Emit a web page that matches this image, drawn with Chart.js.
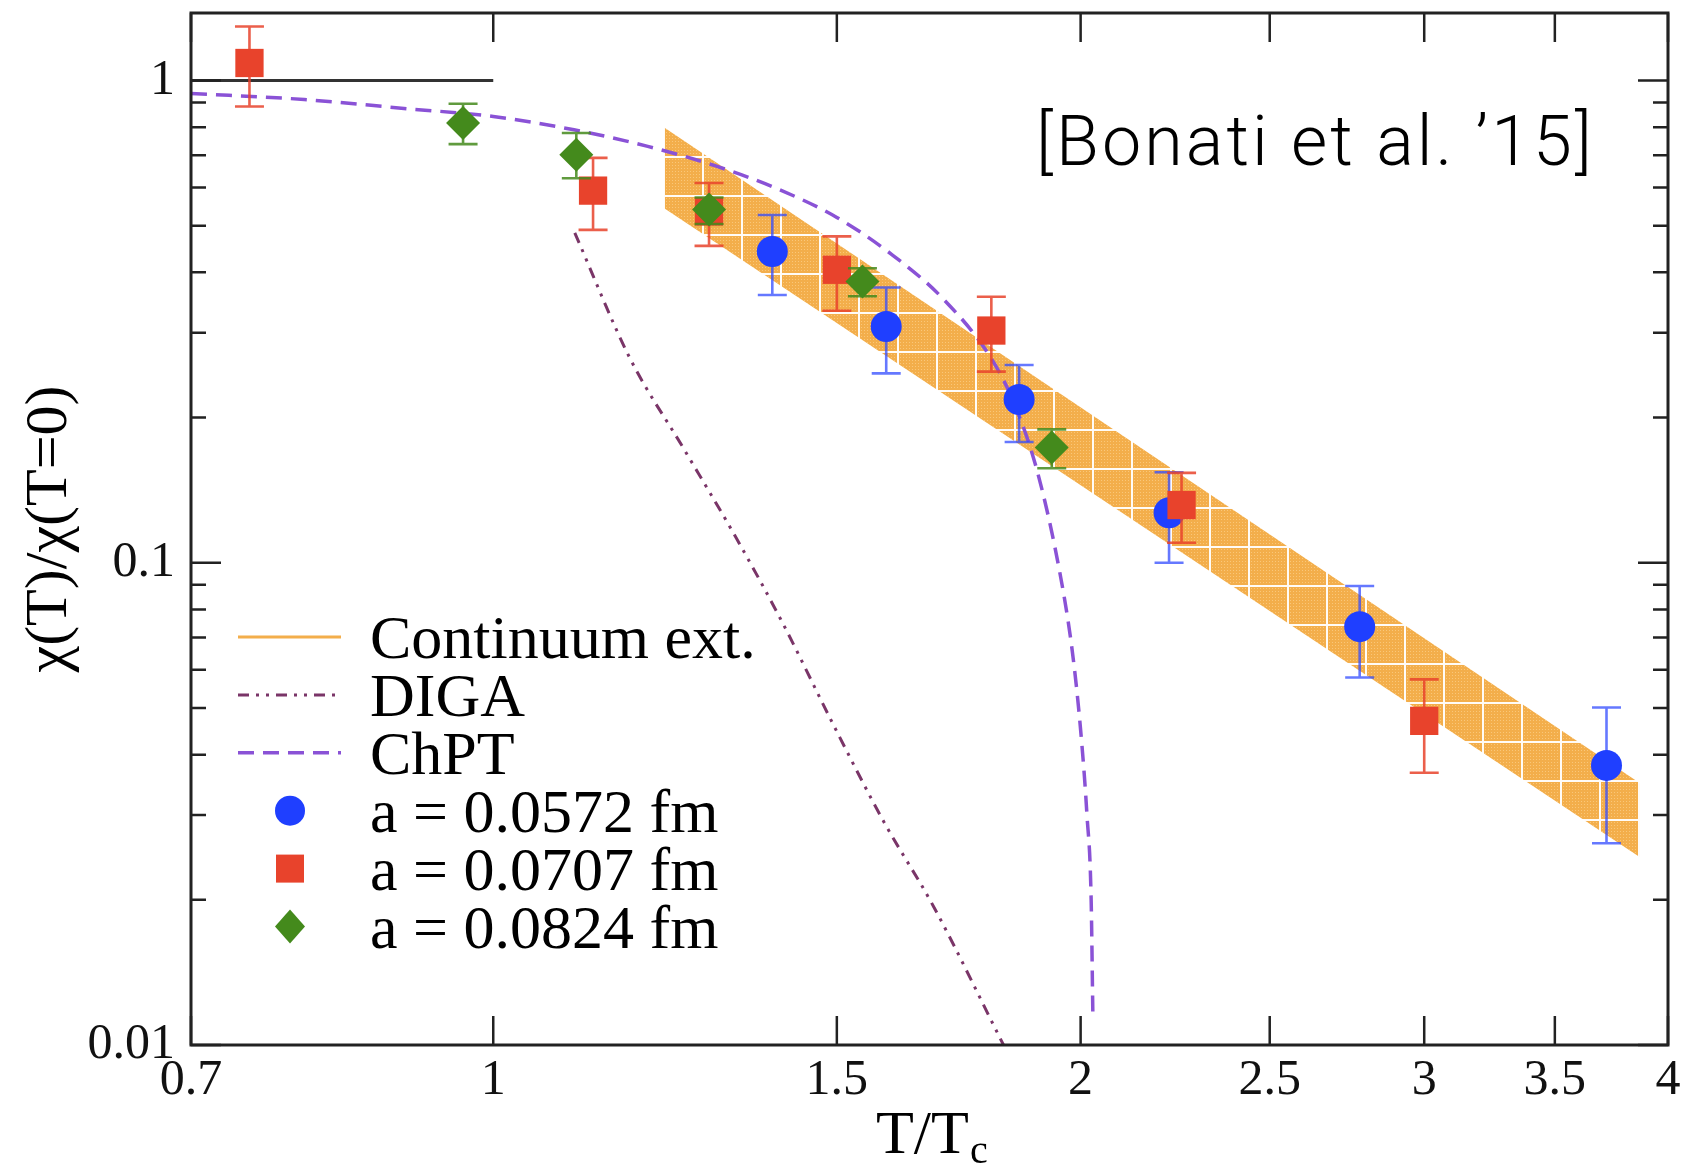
<!DOCTYPE html>
<html>
<head>
<meta charset="utf-8">
<script src="https://cdn.jsdelivr.net/npm/chart.js@4.4.0/dist/chart.umd.min.js"></script>
<style>
  html, body { margin: 0; padding: 0; background: #fff; }
</style>
</head>
<body>
<canvas id="grafico" width="1682" height="1170"></canvas>
<script>
// ticks
const xTicks = [0.7, 1, 1.5, 2, 2.5, 3, 3.5, 4]
const yTicks = [0.01, 0.1, 1]

// a = 0.0572 fm  (azul)
const azulT   = [1.39, 1.59, 1.86, 2.22, 2.78, 3.72]
const azulChi = [0.442, 0.309, 0.218, 0.127, 0.0737, 0.038]
const azulMin = [0.359, 0.247, 0.178, 0.100, 0.0578, 0.0262]
const azulMax = [0.526, 0.372, 0.257, 0.154, 0.0895, 0.0501]

// a = 0.0707 fm  (rojo)
const rojoT   = [0.75, 1.125, 1.29, 1.50, 1.80, 2.253, 3.00]
const rojoChi = [1.087, 0.591, 0.535, 0.405, 0.303, 0.1317, 0.047]
const rojoMin = [0.883, 0.49, 0.454, 0.333, 0.249, 0.110, 0.0367]
const rojoMax = [1.294, 0.691, 0.613, 0.475, 0.356, 0.1536, 0.0573]

// a = 0.0824 fm  (verde)
const verdeT   = [0.965, 1.103, 1.29, 1.546, 1.933]
const verdeChi = [0.816, 0.701, 0.54, 0.383, 0.1733]
const verdeMin = [0.738, 0.627, 0.504, 0.357, 0.157]
const verdeMax = [0.895, 0.778, 0.572, 0.408, 0.189]

// banda continuum ext.
const bandaT   = [1.223, 3.87]
const bandaSup = [0.80, 0.0349]
const bandaInf = [0.544, 0.0245]

// ChPT
const chptT   = [0.7, 0.8, 0.9, 1.0, 1.1, 1.2, 1.3, 1.4, 1.5, 1.6, 1.7, 1.8, 1.85, 1.9, 1.95, 1.98, 2.0, 2.015, 2.025, 2.029]
const chptChi = [0.94, 0.913, 0.875, 0.842, 0.79, 0.73, 0.665, 0.595, 0.52, 0.436, 0.353, 0.265, 0.213, 0.155, 0.097, 0.066, 0.045, 0.03, 0.02, 0.0117]

// DIGA
const digaT   = [1.101, 1.175, 1.252, 1.333, 1.408, 1.494, 1.585, 1.681, 1.826]
const digaChi = [0.483, 0.2655, 0.1724, 0.112, 0.0746, 0.0461, 0.0291, 0.0194, 0.01]

// linea T=0
const ceroT   = [0.7, 1]
const ceroChi = [1, 1]

const leyendaTextos = ['Continuum ext.', 'DIGA', 'ChPT', 'a = 0.0572 fm', 'a = 0.0707 fm', 'a = 0.0824 fm']

const naranja = '#F3AE4B'
const azul = '#1F3FFF'
const rojo = '#E8432C'
const verde = '#448A1C'
const violeta = '#8A52D6'
const morado = '#7A3568'

function puntos(xs, ys) {
  return xs.map((v, i) => ({ x: v, y: ys[i] }))
}

function patronBanda() {
  const c = document.createElement('canvas')
  c.width = 39; c.height = 39
  const g = c.getContext('2d')
  g.fillStyle = naranja
  g.fillRect(0, 0, 39, 39)
  g.fillStyle = 'rgba(255,220,160,0.55)'
  for (let i = 0; i < 39; i += 3) {
    for (let j = 0; j < 39; j += 3) g.fillRect(i, j, 1, 1)
  }
  g.strokeStyle = 'rgba(255,255,255,0.95)'
  g.lineWidth = 2
  g.beginPath()
  g.moveTo(0, 1); g.lineTo(39, 1)
  g.moveTo(1, 0); g.lineTo(1, 39)
  g.stroke()
  return g.createPattern(c, 'repeat')
}

// barras de error
const barrasError = {
  id: 'barrasError',
  beforeDatasetDraw(chart, args) {
    const ds = chart.data.datasets[args.index]
    if (!ds.errMin) return
    const ctx = chart.ctx
    const y = chart.scales.y
    ctx.save()
    ctx.strokeStyle = ds.errColor
    ctx.lineWidth = 2.6
    ctx.beginPath()
    args.meta.data.forEach((el, i) => {
      const y1 = y.getPixelForValue(ds.errMax[i])
      const y2 = y.getPixelForValue(ds.errMin[i])
      ctx.moveTo(el.x, y1); ctx.lineTo(el.x, y2)
      ctx.moveTo(el.x - 14.5, y1); ctx.lineTo(el.x + 14.5, y1)
      ctx.moveTo(el.x - 14.5, y2); ctx.lineTo(el.x + 14.5, y2)
    })
    ctx.stroke()
    ctx.restore()
  }
}

// marco y ticks hacia adentro
const marco = {
  id: 'marco',
  afterDatasetsDraw(chart) {
    const { ctx, chartArea: a, scales: { x, y } } = chart
    ctx.save()
    ctx.strokeStyle = '#222'
    ctx.lineWidth = 2.5
    ctx.beginPath()
    xTicks.forEach(v => {
      const px = x.getPixelForValue(v)
      ctx.moveTo(px, a.bottom); ctx.lineTo(px, a.bottom - 29)
      ctx.moveTo(px, a.top); ctx.lineTo(px, a.top + 29)
    })
    for (let e = -2; e <= 0; e++) {
      for (let m = 1; m <= 9; m++) {
        const v = m * Math.pow(10, e)
        if (v > y.max) continue
        const largo = m === 1 ? 30 : 15
        const py = y.getPixelForValue(v)
        ctx.moveTo(a.left, py); ctx.lineTo(a.left + largo, py)
        ctx.moveTo(a.right, py); ctx.lineTo(a.right - largo, py)
      }
    }
    ctx.stroke()
    ctx.lineWidth = 3
    ctx.strokeRect(a.left, a.top, a.right - a.left, a.bottom - a.top)
    ctx.restore()
  }
}

// leyenda, titulos de ejes y cita
const textos = {
  id: 'textos',
  afterDraw(chart) {
    const ctx = chart.ctx
    ctx.save()
    ctx.fillStyle = '#000'

    // leyenda
    const y0 = 637, paso = 57.9
    ctx.font = '62px "Liberation Serif"'
    ctx.textAlign = 'left'
    ctx.textBaseline = 'alphabetic'
    leyendaTextos.forEach((t, i) => {
      ctx.fillStyle = '#000'
      ctx.fillText(t, 370, y0 + i * paso + 21)
    })
    // simbolos
    ctx.lineWidth = 3
    ctx.strokeStyle = naranja
    ctx.beginPath(); ctx.moveTo(238, y0); ctx.lineTo(341, y0); ctx.stroke()
    ctx.strokeStyle = morado
    ctx.setLineDash([11, 7, 3, 7, 3, 7])
    ctx.beginPath(); ctx.moveTo(238, y0 + paso); ctx.lineTo(341, y0 + paso); ctx.stroke()
    ctx.strokeStyle = violeta
    ctx.lineWidth = 3.5
    ctx.setLineDash([16, 9])
    ctx.beginPath(); ctx.moveTo(238, y0 + 2 * paso); ctx.lineTo(341, y0 + 2 * paso); ctx.stroke()
    ctx.setLineDash([])
    ctx.fillStyle = azul
    ctx.beginPath(); ctx.arc(290, y0 + 3 * paso, 15, 0, Math.PI * 2); ctx.fill()
    ctx.fillStyle = rojo
    ctx.fillRect(290 - 14, y0 + 4 * paso - 14, 28, 28)
    ctx.fillStyle = verde
    const yd = y0 + 5 * paso
    ctx.beginPath()
    ctx.moveTo(290, yd - 17); ctx.lineTo(305, yd); ctx.lineTo(290, yd + 17); ctx.lineTo(275, yd)
    ctx.closePath(); ctx.fill()

    // titulo eje y
    ctx.fillStyle = '#000'
    ctx.font = '60px "Liberation Serif"'
    ctx.save()
    ctx.translate(50, 529)
    ctx.rotate(-Math.PI / 2)
    ctx.textAlign = 'center'
    ctx.textBaseline = 'middle'
    ctx.fillText('χ(T)/χ(T=0)', 0, 0)
    ctx.restore()

    // titulo eje x
    ctx.font = '62px "Liberation Serif"'
    ctx.textAlign = 'left'
    ctx.textBaseline = 'alphabetic'
    ctx.fillText('T/T', 876, 1153)
    const w = ctx.measureText('T/T').width
    ctx.font = '40px "Liberation Serif"'
    ctx.fillText('c', 876 + w + 1, 1163)

    // cita
    ctx.font = '300 70px Roboto'
    const cita = '[Bonati et al. \u201915]'
    const ancho = ctx.measureText(cita).width
    ctx.letterSpacing = ((559 - ancho) / cita.length).toFixed(2) + 'px'
    ctx.textAlign = 'left'
    ctx.fillText(cita, 1036, 165)
    ctx.restore()
  }
}

const fuenteTicks = { family: 'Liberation Serif', size: 50 }

new Chart(document.getElementById('grafico'), {
  type: 'scatter',
  data: {
    datasets: [
      { label: 'a = 0.0824 fm', data: puntos(verdeT, verdeChi), order: 1,
        pointStyle: 'rectRot', pointRadius: 17, backgroundColor: verde, borderWidth: 0,
        errMin: verdeMin, errMax: verdeMax, errColor: 'rgba(68,138,28,0.85)' },
      { label: 'a = 0.0707 fm', data: puntos(rojoT, rojoChi), order: 2,
        pointStyle: 'rect', pointRadius: 20, backgroundColor: rojo, borderWidth: 0,
        errMin: rojoMin, errMax: rojoMax, errColor: 'rgba(232,67,44,0.85)' },
      { label: 'a = 0.0572 fm', data: puntos(azulT, azulChi), order: 3,
        pointStyle: 'circle', pointRadius: 15.5, backgroundColor: azul, borderWidth: 0,
        errMin: azulMin, errMax: azulMax, errColor: 'rgba(50,75,255,0.75)' },
      { label: 'DIGA', data: puntos(digaT, digaChi), order: 5, showLine: true,
        borderColor: morado, borderWidth: 3, borderDash: [11, 7, 3, 7, 3, 7],
        pointRadius: 0, cubicInterpolationMode: 'monotone' },
      { label: 'ChPT', data: puntos(chptT, chptChi), order: 5, showLine: true,
        borderColor: violeta, borderWidth: 3.5, borderDash: [16, 9],
        pointRadius: 0, cubicInterpolationMode: 'monotone' },
      { label: 'T=0', data: puntos(ceroT, ceroChi), order: 6, showLine: true,
        borderColor: '#333', borderWidth: 3, pointRadius: 0 },
      { label: 'Continuum ext.', data: puntos(bandaT, bandaSup), order: 10, showLine: true,
        borderColor: 'rgba(0,0,0,0)', borderWidth: 0, pointRadius: 0,
        backgroundColor: patronBanda(), fill: '+1' },
      { label: 'banda inf', data: puntos(bandaT, bandaInf), order: 10, showLine: true,
        borderColor: 'rgba(0,0,0,0)', borderWidth: 0, pointRadius: 0 }
    ]
  },
  options: {
    responsive: false,
    animation: false,
    layout: { autoPadding: false, padding: { top: 13, right: 14, left: 0, bottom: 0 } },
    plugins: { legend: { display: false }, tooltip: { enabled: false } },
    scales: {
      x: {
        type: 'logarithmic', min: 0.7, max: 4,
        afterBuildTicks: s => { s.ticks = xTicks.map(v => ({ value: v })) },
        afterFit: s => { s.height = 125; s.paddingLeft = 0; s.paddingRight = 0 },
        grid: { display: false, drawTicks: false }, border: { display: false },
        ticks: { font: fuenteTicks, color: '#111', padding: 6, autoSkip: false, maxRotation: 0,
          callback: v => String(v) }
      },
      y: {
        type: 'logarithmic', min: 0.01, max: 1.38,
        afterBuildTicks: s => { s.ticks = yTicks.map(v => ({ value: v })) },
        afterFit: s => { s.width = 191; s.paddingTop = 0; s.paddingBottom = 0 },
        grid: { display: false, drawTicks: false }, border: { display: false },
        ticks: { font: fuenteTicks, color: '#111', padding: 16, autoSkip: false,
          callback: v => String(v) }
      }
    }
  },
  plugins: [barrasError, marco, textos]
})
</script>
</body>
</html>
